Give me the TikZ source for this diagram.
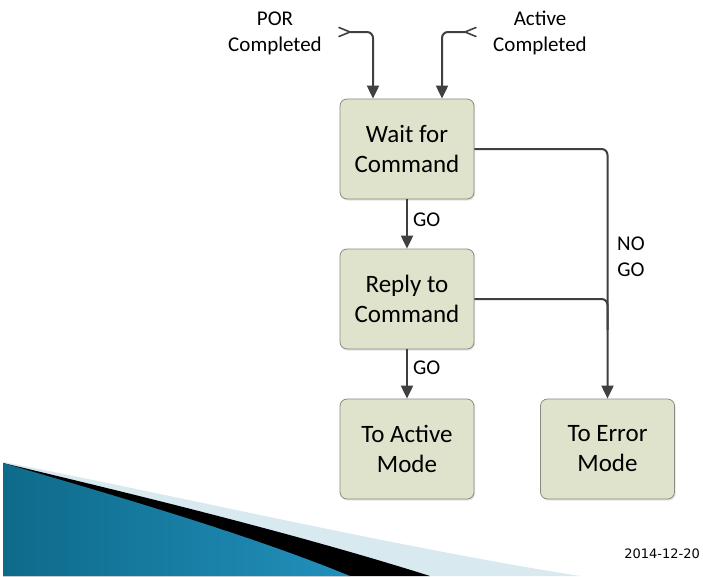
\documentclass[tikz,border=0pt]{standalone}
\usepackage{fontspec}
\setmainfont{Carlito}
\newfontfamily\datefont{DejaVu Sans}
\usetikzlibrary{arrows.meta,shadows}

\definecolor{boxfill}{HTML}{DFE3CC}
\definecolor{boxline}{HTML}{8A8A82}
\definecolor{flowline}{HTML}{404040}
\definecolor{paleblue}{HTML}{D8E9F0}
\definecolor{deepteal}{HTML}{0E6A8A}
\definecolor{brightteal}{HTML}{4DB2D8}
\definecolor{midteal}{HTML}{2290BC}

\begin{document}
\begin{tikzpicture}[x=1pt,y=-1pt,
  state/.style={draw=boxline, line width=0.8pt, fill=boxfill, rounded corners=7pt,
    minimum width=134pt, minimum height=100pt, align=center, inner sep=0pt,
    font=\fontsize{25}{30}\selectfont,
    drop shadow={shadow xshift=1.2pt, shadow yshift=-1.5pt, opacity=0.22}},
  lbl/.style={align=center, inner sep=0pt, font=\fontsize{21}{26}\selectfont},
  wire/.style={draw=flowline, line width=2pt, rounded corners=6pt},
  flow/.style={wire, -{Triangle[length=13pt,width=12pt]}},
  tail/.style={draw=flowline, line width=1.6pt, line cap=round, line join=miter}
]
\useasboundingbox (0,0) rectangle (703,576);
\fill[white] (0,0) rectangle (703,576);

% slide corner decoration
\fill[paleblue] (3,462) .. controls (150,490) and (400,548) .. (580,576) -- (3,576) -- cycle;
\fill[black] (3,463) .. controls (150,498) and (300,535) .. (430,576) -- (3,576) -- cycle;
\shade[left color=deepteal, middle color=brightteal, right color=midteal]
  (3,463) .. controls (120,497) and (250,535) .. (350,576) -- (3,576) -- cycle;

% states
\node[state] (wait)  at (407,149)   {Wait for\\Command};
\node[state] (reply) at (407,299)   {Reply to\\Command};
\node[state] (act)   at (407,449)   {To Active\\Mode};
\node[state] (err)   at (607.5,449) {To Error\\Mode};

% incoming events
\node[lbl] (por)  at (275,33) {POR\\Completed};
\node[lbl] (actc) at (540,33) {Active\\Completed};
\coordinate (porIn) at (350,32);
\coordinate (actIn) at (465,32);
\draw[flow] (porIn) -| ([xshift=-34pt]wait.north);
\draw[flow] (actIn) -| ([xshift=35pt]wait.north);
% open chevron tails at the free ends
\draw[tail] ([xshift=-11pt,yshift=4.5pt]porIn) -- (porIn) -- ([xshift=-11pt,yshift=-4.5pt]porIn);
\draw[tail] ([xshift=11pt,yshift=4.5pt]actIn) -- (actIn) -- ([xshift=11pt,yshift=-4.5pt]actIn);

% transitions
\draw[flow] (wait) -- node[lbl, anchor=west, pos=0.42, xshift=5pt] (go1) {GO} (reply);
\draw[flow] (reply) -- node[lbl, anchor=west, pos=0.38, xshift=5pt] (go2) {GO} (act);
\draw[flow] (wait.east) -| (err.north);
\coordinate (merge) at (607.5,330);
\draw[wire] (reply.east) -| (merge);
\node[lbl, anchor=west] (nogo) at (617,257) {NO\\GO};

% date
\node[anchor=base east, inner sep=0pt, font=\datefont\fontsize{13}{16}\selectfont] (date) at (700,558) {2014-12-20};
\end{tikzpicture}
\end{document}
